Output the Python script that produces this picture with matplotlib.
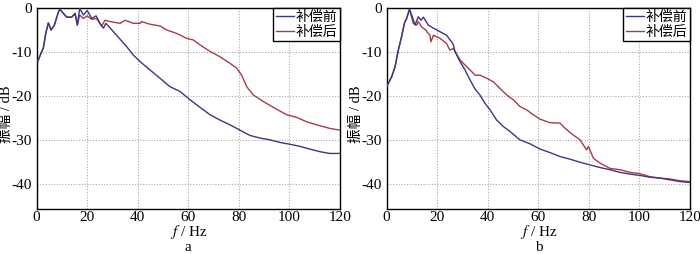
import numpy as np
import matplotlib.pyplot as plt

# ============================================================
# Data
# ============================================================
# panel a
a_before_f = [0.4, 2, 2.6, 3.6, 4.6, 5.7, 7, 8.6, 9.2, 10.5, 11.9, 13.8, 15.2, 16.1, 17,
              18.5, 20, 21.8, 23.5, 25, 26.4, 27.4, 31.6, 35.6, 38.2, 40.9, 44.8, 48.8,
              52.7, 56.7, 60.7, 64.6, 68.6, 72.5, 76.5, 80.4, 84.4, 88.4, 92.3, 96.3,
              100.2, 104.2, 108.1, 112.1, 116, 120]
a_before_db = [-12.1, -9.8, -9.1, -5.7, -3.3, -4.9, -3.8, -0.8, -0.2, -1.1, -2.0, -2.0, -1.1,
               -3.8, 0.0, -1.5, -0.5, -2.3, -1.7, -3.4, -4.5, -3.4, -6.1, -8.7, -10.6,
               -12.1, -14.0, -15.9, -17.8, -18.9, -20.8, -22.5, -24.2, -25.4, -26.5, -27.7,
               -28.9, -29.5, -29.9, -30.5, -30.9, -31.4, -32.0, -32.6, -33.0, -33.0]
a_after_f = [0.4, 2, 2.6, 3.6, 4.6, 5.7, 7, 8.6, 9.2, 10.5, 11.9, 13.8, 15.2, 16.1, 17,
             18.5, 20, 21.8, 23.7, 25.7, 27, 29, 33, 35, 38.2, 40.9, 41.5, 44.8, 48.8,
             51.4, 55.4, 59.3, 62, 64.6, 68.6, 72.5, 76.5, 79.1, 81.1, 83.1, 85.7, 89.7,
             93.6, 98.9, 102.9, 106.8, 112.1, 116, 120]
a_after_db = [-12.1, -9.8, -9.1, -5.7, -3.3, -4.9, -3.8, -0.8, -0.2, -1.1, -2.0, -2.0, -1.3,
              -3.8, -1.5, -2.3, -1.7, -2.5, -2.3, -4.0, -2.7, -3.0, -3.4, -2.7, -3.4, -3.4,
              -3.0, -3.6, -4.0, -4.9, -5.7, -6.8, -7.2, -8.3, -9.8, -11.0, -12.5, -13.6,
              -15.2, -17.8, -19.7, -21.2, -22.5, -24.2, -24.8, -25.8, -26.7, -27.3, -27.7]

# panel b
b_before_f = [0, 2, 3.3, 4.6, 5.9, 7, 7.9, 9, 9.9, 11.2, 12.5, 13.6, 14.5, 16.5, 18.5, 21.1,
              23.7, 25.1, 25.7, 26.4, 27, 29, 31, 33, 35, 36.9, 38.9, 40.9, 43.5, 46.2,
              48.8, 52.7, 56.7, 60.7, 64.6, 68.6, 72.5, 76.5, 80.4, 84.4, 88.4, 92.3,
              96.3, 100.2, 104.2, 108.1, 112.1, 116, 120]
b_before_db = [-17.8, -15.5, -13.3, -9.5, -6.4, -3.4, -2.3, -0.2, -1.5, -3.8, -1.9, -2.7,
               -2.0, -3.8, -4.5, -5.3, -6.1, -7.2, -7.6, -8.3, -9.8, -12.1, -14.0, -16.3,
               -18.4, -19.7, -21.6, -23.1, -25.4, -26.9, -28.0, -29.9, -30.8, -32.0, -32.8,
               -33.7, -34.3, -35.0, -35.6, -36.2, -36.7, -37.3, -37.7, -38.0, -38.4, -38.6,
               -39.0, -39.4, -39.6]
b_after_f = [0, 2, 3.3, 4.6, 5.9, 7, 7.9, 9, 10.5, 11.9, 12.5, 13.8, 15.2, 17.1, 17.5, 18.5,
             21.1, 23.7, 25, 26.4, 29, 31, 33, 35, 36.9, 39.6, 42.2, 44.8, 47.5, 50.1, 52.7,
             55.4, 58, 60.7, 64.6, 68.6, 70.6, 73.8, 76.5, 79.1, 79.8, 81.8, 84.4, 88.4,
             92.3, 96.3, 100.2, 104.2, 108.1, 112.1, 116, 120]
b_after_db = [-17.8, -15.5, -13.3, -9.5, -6.4, -3.4, -2.3, -0.2, -3.4, -3.8, -3.0, -4.2,
              -4.8, -6.1, -7.6, -6.1, -6.8, -8.0, -9.5, -9.1, -11.7, -12.9, -14.0, -15.2,
              -15.2, -15.9, -16.7, -18.2, -19.7, -20.8, -22.3, -23.1, -24.2, -25.2, -26.0,
              -26.1, -27.3, -28.8, -29.9, -32.2, -31.4, -34.1, -35.2, -36.4, -36.7, -37.3,
              -37.6, -38.3, -38.6, -38.8, -39.2, -39.4]

labels = ["补偿前", "补偿后"]
panel_names = ["a", "b"]
xticks = [0, 20, 40, 60, 80, 100, 120]
yticks = [0, -10, -20, -30, -40]

# ============================================================
# Style
# ============================================================
plt.rcParams['font.family'] = ['Liberation Serif', 'Noto Sans CJK SC']
plt.rcParams['mathtext.fontset'] = 'stix'
plt.rcParams['axes.unicode_minus'] = False
BLUE = "#3b3688"
RED = "#a83c46"

fig = plt.figure(figsize=(7, 2.54), dpi=100)
axes = [fig.add_axes([0.0524, 0.176, 0.4333, 0.791]),
        fig.add_axes([0.5524, 0.176, 0.4333, 0.791])]

data = [(a_before_f, a_before_db, a_after_f, a_after_db),
        (b_before_f, b_before_db, b_after_f, b_after_db)]

for ax, (f1, d1, f2, d2), name in zip(axes, data, panel_names):
    ax.plot(f2, d2, color=RED, lw=1.0, label=labels[1], zorder=3)
    ax.plot(f1, d1, color=BLUE, lw=1.0, label=labels[0], zorder=4)
    ax.set_xlim(0, 120)
    ax.set_ylim(-45.7, 0)
    ax.set_xticks(xticks)
    ax.set_yticks(yticks)
    ax.tick_params(length=0, labelsize=11)
    ax.tick_params(axis="y", pad=3.2)
    ax.tick_params(axis="x", pad=1.2)
    ax.grid(True, color="#aaaaaa", linestyle=(0, (1, 1.5)), lw=0.8)
    for s in ax.spines.values():
        s.set_color("black")
        s.set_linewidth(1.0)

    # axis titles placed by hand
    ax.text(-0.099, 0.474, "振幅 / dB", transform=ax.transAxes, rotation=90,
            ha="center", va="center", fontsize=10.5)
    ax.text(0.5, -0.115, "$f$ / Hz", transform=ax.transAxes,
            ha="center", va="center", fontsize=11)
    ax.text(0.5, -0.19, name, transform=ax.transAxes, ha="center", va="center",
            fontsize=11)

    h, l = ax.get_legend_handles_labels()
    leg = ax.legend(h[::-1], l[::-1], loc="upper right", borderaxespad=0,
                    fontsize=10, handlelength=1.3, handletextpad=0.1,
                    labelspacing=0.1, borderpad=0.2, fancybox=False, framealpha=1)
    leg.get_frame().set_edgecolor("black")
    leg.get_frame().set_linewidth(1.0)

fig.savefig("out.png", dpi=100)
